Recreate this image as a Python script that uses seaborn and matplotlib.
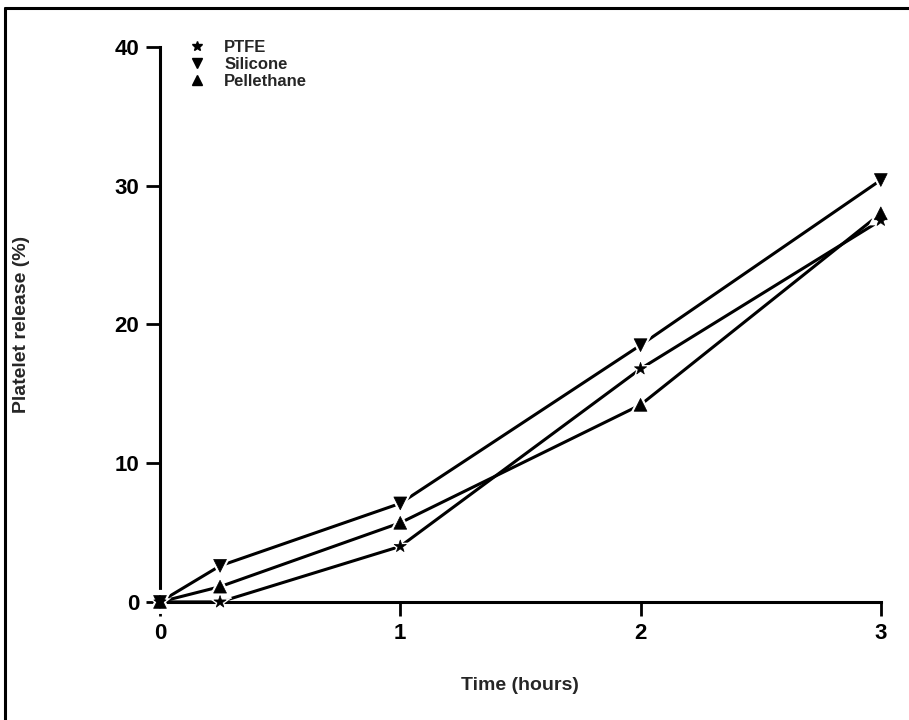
import matplotlib
matplotlib.use("Agg")
import matplotlib.pyplot as plt
from matplotlib.lines import Line2D
import seaborn as sns
import pandas as pd

time_hours = [0, 0.25, 1, 2, 3]
ptfe = [0.0, 0.0, 4.0, 16.8, 27.5]
silicone = [0.0, 2.6, 7.1, 18.5, 30.4]
pellethane = [0.0, 1.1, 5.7, 14.2, 28.0]
series_names = ["PTFE", "Silicone", "Pellethane"]
x_ticks = [0, 1, 2, 3]
y_ticks = [0, 10, 20, 30, 40]

sns.set_theme(style="ticks")
plt.rcParams['font.family'] = ['Liberation Sans', 'DejaVu Sans']

rows = []
for name, vals in zip(series_names, [ptfe, silicone, pellethane]):
    for t, v in zip(time_hours, vals):
        rows.append({"Time": t, "Release": v, "Material": name})
df = pd.DataFrame(rows)

markers = {"PTFE": "*", "Silicone": "v", "Pellethane": "^"}
fig = plt.figure(figsize=(9.09, 7.2), dpi=100)
ax = fig.add_axes([0.176, 0.164, 0.793, 0.771])

sns.lineplot(data=df, x="Time", y="Release", hue="Material",
             palette=["black"] * 3, linewidth=2.2, legend=False, ax=ax)
# white halo behind markers to give line gaps
sns.scatterplot(data=df, x="Time", y="Release", style="Material", markers=markers,
                color="white", s=300, edgecolor="white", linewidth=0,
                legend=False, ax=ax, clip_on=False, zorder=3)
sns.scatterplot(data=df, x="Time", y="Release", style="Material", markers=markers,
                color="black", s=85, edgecolor="black", linewidth=0.5,
                legend=False, ax=ax, clip_on=False, zorder=4)

ax.set_xlim(0, 3)
ax.set_ylim(0, 40)
ax.set_xticks(x_ticks)
ax.set_yticks(y_ticks)
ax.set_xticklabels([str(t) for t in x_ticks], fontsize=16, fontweight="bold")
ax.set_yticklabels([str(t) for t in y_ticks], fontsize=16, fontweight="bold")
for s in ["top", "right"]:
    ax.spines[s].set_visible(False)
for s in ["left", "bottom"]:
    ax.spines[s].set_linewidth(2.2)
    ax.spines[s].set_color("black")
ax.tick_params(axis="both", length=10, width=2, colors="black", pad=5)
ax.set_xlabel("Time (hours)", fontsize=14, fontweight="bold", labelpad=24)
ax.set_ylabel("Platelet release (%)", fontsize=14, fontweight="bold", labelpad=61)

handles = [Line2D([], [], color="black", marker=markers[n], linestyle="none",
                  markersize=7) for n in series_names]
ax.legend(handles, series_names, loc="upper left", bbox_to_anchor=(0.008, 1.04),
          frameon=False, prop={"weight": "bold", "size": 12},
          handletextpad=0.6, labelspacing=0.12)

# outer frame
fw = 2.2
fig.add_artist(Line2D([0.005, 0.005], [0.0, 0.989], transform=fig.transFigure, color="black", lw=fw))
fig.add_artist(Line2D([0.005, 1.0], [0.989, 0.989], transform=fig.transFigure, color="black", lw=fw))

fig.savefig("out.png", dpi=100)
